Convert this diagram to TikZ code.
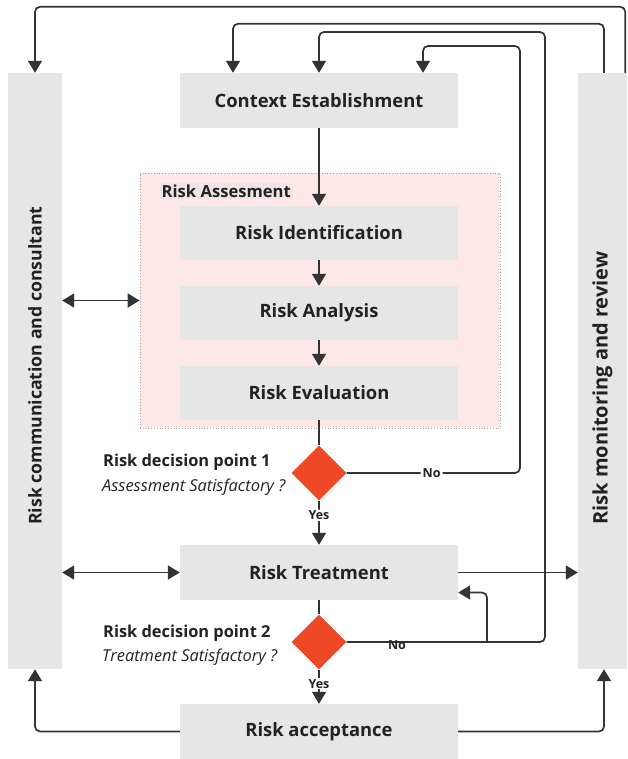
\documentclass[tikz,border=0pt]{standalone}
\usepackage{fontspec}
\setmainfont{Open Sans}
\usetikzlibrary{shapes.geometric,arrows.meta,calc}
\definecolor{boxgray}{HTML}{E6E6E6}
\definecolor{pinkfill}{HTML}{FDE7E7}
\definecolor{lblfill}{HTML}{F0E4E4}
\definecolor{diafill}{HTML}{EF4826}
\definecolor{linec}{HTML}{333333}
\definecolor{txt}{HTML}{222222}
\begin{document}
\begin{tikzpicture}[x=1pt,y=-1pt,
  every node/.style={text=txt},
  procbox/.style={rectangle,fill=boxgray,draw=none,minimum width=278pt,minimum height=54pt,inner sep=0pt,font=\fontsize{18.4}{20}\selectfont\bfseries},
  sidebar/.style={rectangle,fill=boxgray,draw=none,inner sep=0pt},
  sidetext/.style={rotate=90,anchor=west,inner sep=0pt,font=\bfseries},
  decision/.style={diamond,fill=diafill,draw=none,minimum width=55pt,minimum height=55pt,inner sep=0pt},
  conn/.style={draw=linec,line width=1.7pt,rounded corners=5pt},
  arr/.style={conn,-{Triangle[length=12pt,width=14pt]}},
  darr/.style={conn,{Triangle[length=12pt,width=14pt]}-{Triangle[length=12pt,width=14pt]}},
  yeslbl/.style={fill=white,inner sep=1pt,font=\fontsize{12.5}{14}\selectfont\bfseries},
  nolbl/.style={fill=white,inner sep=2pt,font=\fontsize{12.5}{14}\selectfont\bfseries},
  declbl/.style={anchor=west,inner sep=0pt,font=\fontsize{16.4}{18}\selectfont\bfseries},
  decsub/.style={anchor=west,inner sep=0pt,font=\fontsize{16.4}{18}\selectfont\itshape}
]
\useasboundingbox (0,0) rectangle (627,759);

% side bars
\node[sidebar,minimum width=54pt,minimum height=596pt] (lb) at (35,371) {};
\node[sidebar,minimum width=49pt,minimum height=596pt] (rb) at (602.5,371) {};
\node[sidetext,font=\fontsize{17.7}{20}\selectfont\bfseries] (lbt) at (35,525) {Risk communication and consultant};
\node[sidetext,font=\fontsize{20}{22}\selectfont\bfseries] (rbt) at (602.5,525) {Risk monitoring and review};

% risk assessment container
\node[rectangle,fill=pinkfill,draw=gray!70,dotted,line width=0.8pt,minimum width=360pt,minimum height=255pt,inner sep=0pt] (assess) at (320,300.5) {};
\node[anchor=west,fill=lblfill,inner sep=1.5pt,font=\fontsize{16.6}{18}\selectfont\bfseries] (assesslbl) at (160,191) {Risk Assesment};

% process boxes
\node[procbox,minimum height=55pt] (ctx) at (319,100.5) {Context Establishment};
\node[procbox] (ident) at (319,233) {Risk Identification};
\node[procbox] (anal) at (319,313) {Risk Analysis};
\node[procbox] (eval) at (319,393) {Risk Evaluation};
\node[procbox,minimum height=55pt] (treat) at (319,572.5) {Risk Treatment};
\node[procbox,minimum height=55pt] (accept) at (319,731.5) {Risk acceptance};

% decisions
\node[decision] (d1) at (319,473) {};
\node[decision] (d2) at (319,642) {};
\node[declbl] (d1t) at (103,462) {Risk decision point 1};
\node[decsub] (d1s) at (102,487) {Assessment Satisfactory ?};
\node[declbl] (d2t) at (103,633) {Risk decision point 2};
\node[decsub] (d2s) at (102,657) {Treatment Satisfactory ?};

% helper coordinates
\coordinate (c1) at (520,473);
\coordinate (c2) at (545,32);
\coordinate (br) at (487,642);

% main flow
\draw[arr] (ctx.south) -- (ident.north);
\draw[arr] (ident.south) -- (anal.north);
\draw[arr] (anal.south) -- (eval.north);
\draw[conn] (eval.south) -- (d1.north);
\draw[arr] (d1.south) -- node[yeslbl,pos=0.33]{Yes} (treat.north);
\draw[conn] (treat.south) -- (d2.north);
\draw[arr] (d2.south) -- node[yeslbl,pos=0.41]{Yes} (accept.north);

% decision 1 "No" loop
\draw[arr] (d1.east) -- node[nolbl,pos=0.49]{No} (c1) -- ++(0,-427) -| ([xshift=104pt]ctx.north);

% decision 2 "No" loops
\draw[arr] (d2.east) -| (c2) -| (ctx.north);
\draw[arr] (br) |- ([yshift=-20pt]treat.east);
\node[inner sep=0pt,font=\fontsize{12.5}{14}\selectfont\bfseries] (no2) at (397,645) {No};

% top feedback loops from monitoring bar
\draw[arr] ([xshift=-2pt]rb.north east) -- ++(0,-66) -| (lb.north);
\draw[arr] ([xshift=1.5pt]rb.north) -- ++(0,-49) -| ([xshift=-86pt]ctx.north);

% communication links
\draw[darr] (lb.east |- assess.west) -- (assess.west);
\draw[darr] (lb.east |- treat.west) -- (treat.west);
\draw[arr] (treat.east) -- (treat.east -| rb.west);

% acceptance links
\draw[arr] (accept.west) -| (lb.south);
\draw[arr] (accept.east) -| ([xshift=1.5pt]rb.south);
\end{tikzpicture}
\end{document}
